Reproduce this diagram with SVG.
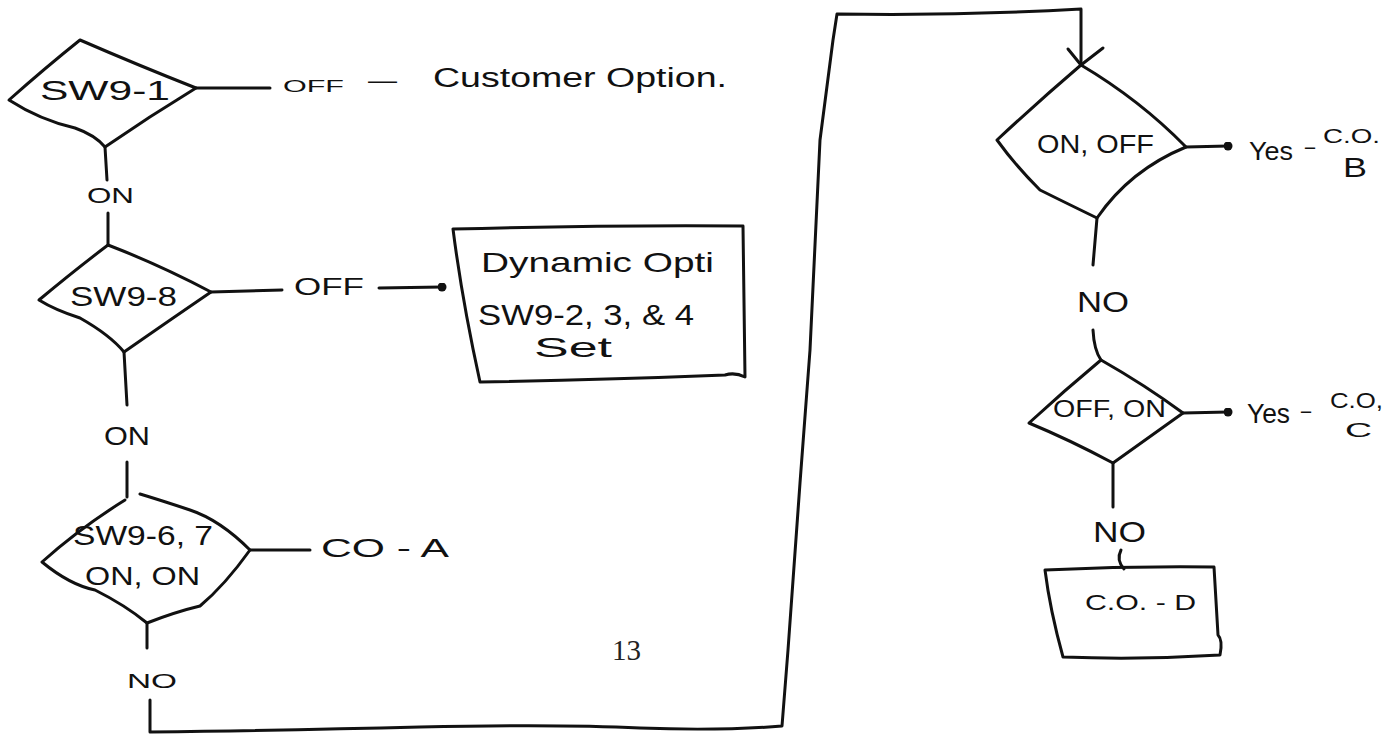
<svg xmlns="http://www.w3.org/2000/svg" width="1390" height="734" viewBox="0 0 1390 734">
<defs>
<marker id="dot" viewBox="0 0 10 10" refX="5" refY="5" markerWidth="3" markerHeight="3" markerUnits="strokeWidth">
<circle cx="5" cy="5" r="5" fill="#111"/>
</marker>
<style>
.shape{fill:none;stroke:#111;stroke-width:3;stroke-linejoin:round;stroke-linecap:round}
.line{fill:none;stroke:#111;stroke-width:3;stroke-linecap:round;stroke-linejoin:round}
.hand{font-family:"Liberation Sans","DejaVu Sans",sans-serif;fill:#111}
.print{font-family:"Liberation Serif","DejaVu Serif",serif;fill:#222}
</style>
</defs>
<rect width="1390" height="734" fill="#fff"/>

<g id="connectors">
<path class="line" d="M196,88 L270,88"/>
<path class="line" d="M105,147 L107,180"/>
<path class="line" d="M108,213 L108,245"/>
<path class="line" d="M211,292 L282,290"/>
<path class="line" d="M379,288 L442,287" marker-end="url(#dot)"/>
<path class="line" d="M124,352 L127,405"/>
<path class="line" d="M127,462 L127,497"/>
<path class="line" d="M250,550 L310,550"/>
<path class="line" d="M147,623 L147,648"/>
<path class="line" d="M150,700 L150,732 Q300,730 420,727 Q560,724 640,728 Q720,731 782,726 L788,650 L800,483 L810,350 L820,140 L833,40 L837,14 Q960,16 1081,9 L1081,65"/>
<path class="line" d="M1068,49 L1081,65 L1103,48"/>
<path class="line" d="M1186,147 L1228,146" marker-end="url(#dot)"/>
<path class="line" d="M1097,218 L1093,265"/>
<path class="line" d="M1093,330 Q1094,350 1101,360"/>
<path class="line" d="M1183,413 L1228,412" marker-end="url(#dot)"/>
<path class="line" d="M1113,463 L1113,507"/>
<path class="line" d="M1121,550 Q1116,560 1124,569"/>
</g>

<g id="sw9-1">
<path class="shape" d="M9,100 Q45,68 80,40 Q140,66 196,88 Q150,116 105,147 Q95,135 75,128 Q40,120 9,100 Z"/>
<text class="hand" x="40" y="100" font-size="28" textLength="130" lengthAdjust="spacingAndGlyphs">SW9-1</text>
</g>
<text class="hand" x="283" y="92" font-size="17" textLength="61" lengthAdjust="spacingAndGlyphs">OFF</text>
<text class="hand" x="368" y="88" font-size="22" textLength="29" lengthAdjust="spacingAndGlyphs">—</text>
<text id="customer-option" class="hand" x="433" y="87" font-size="27" textLength="294" lengthAdjust="spacingAndGlyphs">Customer Option.</text>
<text class="hand" x="87" y="203" font-size="22" textLength="47" lengthAdjust="spacingAndGlyphs">ON</text>

<g id="sw9-8">
<path class="shape" d="M108,245 Q160,265 211,292 Q170,320 124,352 Q110,335 80,318 Q55,310 39,300 Q75,270 108,245 Z"/>
<text class="hand" x="70" y="306" font-size="28" textLength="107" lengthAdjust="spacingAndGlyphs">SW9-8</text>
</g>
<text class="hand" x="294" y="295" font-size="24" textLength="70" lengthAdjust="spacingAndGlyphs">OFF</text>

<g id="dynamic-options">
<path class="shape" d="M453,229 Q600,225 743,226 L745,377 Q735,372 725,375 Q600,380 480,382 Q462,300 453,229 Z"/>
<text class="hand" x="481" y="272" font-size="28" textLength="233" lengthAdjust="spacingAndGlyphs">Dynamic Opti</text>
<text class="hand" x="478" y="325" font-size="30" textLength="216" lengthAdjust="spacingAndGlyphs">SW9-2, 3, &amp; 4</text>
<text class="hand" x="534" y="357" font-size="28" textLength="78" lengthAdjust="spacingAndGlyphs">Set</text>
</g>
<text class="hand" x="104" y="445" font-size="25" textLength="46" lengthAdjust="spacingAndGlyphs">ON</text>

<g id="sw9-6-7">
<path class="shape" d="M125,500 Q80,528 42,562 Q70,585 95,590 Q125,605 147,623 Q175,612 200,606 Q225,585 250,550 Q220,520 190,510 Q160,500 140,494"/>
<text class="hand" x="73" y="545" font-size="28" textLength="140" lengthAdjust="spacingAndGlyphs">SW9-6, 7</text>
<text class="hand" x="85" y="585" font-size="26" textLength="115" lengthAdjust="spacingAndGlyphs">ON, ON</text>
</g>
<text class="hand" x="321" y="557" font-size="26" textLength="128" lengthAdjust="spacingAndGlyphs">CO - A</text>
<text class="hand" x="127" y="688" font-size="20" textLength="50" lengthAdjust="spacingAndGlyphs">NO</text>
<text class="print" x="612" y="660" font-size="29">13</text>

<g id="on-off">
<path class="shape" d="M1081,65 Q1140,100 1186,147 Q1130,170 1097,218 Q1060,200 1040,190 Q1015,165 997,140 Q1040,100 1081,65 Z"/>
<text class="hand" x="1037" y="153" font-size="26" textLength="117" lengthAdjust="spacingAndGlyphs">ON, OFF</text>
</g>
<text class="hand" x="1249" y="160" font-size="26" textLength="44" lengthAdjust="spacingAndGlyphs">Yes</text>
<text class="hand" x="1303" y="154" font-size="20" textLength="14" lengthAdjust="spacingAndGlyphs">-</text>
<text class="hand" x="1323" y="143" font-size="20" textLength="57" lengthAdjust="spacingAndGlyphs">C.O.</text>
<text class="hand" x="1343" y="177" font-size="28" textLength="24" lengthAdjust="spacingAndGlyphs">B</text>
<text class="hand" x="1077" y="312" font-size="30" textLength="52" lengthAdjust="spacingAndGlyphs">NO</text>

<g id="off-on">
<path class="shape" d="M1101,360 Q1145,385 1183,413 Q1145,440 1113,463 Q1070,440 1029,423 Q1065,390 1101,360 Z"/>
<text class="hand" x="1053" y="417" font-size="24" textLength="113" lengthAdjust="spacingAndGlyphs">OFF, ON</text>
</g>
<text class="hand" x="1247" y="423" font-size="28" textLength="43" lengthAdjust="spacingAndGlyphs">Yes</text>
<text class="hand" x="1299" y="418" font-size="20" textLength="14" lengthAdjust="spacingAndGlyphs">-</text>
<text class="hand" x="1330" y="408" font-size="22" textLength="53" lengthAdjust="spacingAndGlyphs">C.O,</text>
<text class="hand" x="1345" y="437" font-size="20" textLength="27" lengthAdjust="spacingAndGlyphs">C</text>
<text class="hand" x="1093" y="542" font-size="30" textLength="53" lengthAdjust="spacingAndGlyphs">NO</text>

<g id="co-d">
<path class="shape" d="M1045,570 Q1130,566 1214,567 L1218,635 Q1223,640 1220,655 Q1140,660 1063,657 Q1050,610 1045,570 Z"/>
<text class="hand" x="1085" y="610" font-size="22" textLength="111" lengthAdjust="spacingAndGlyphs">C.O. - D</text>
</g>
</svg>
